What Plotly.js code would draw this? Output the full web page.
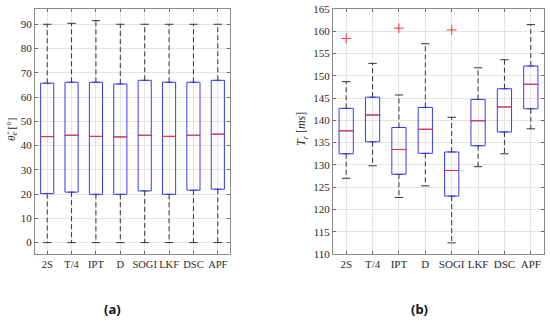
<!DOCTYPE html>
<html>
<head>
<meta charset="utf-8">
<script src="https://cdn.plot.ly/plotly-3.0.1.min.js"></script>
<style>html,body{margin:0;padding:0;background:#fff;}#plot{width:550px;height:322px;}</style>
</head>
<body>
<div id="plot"></div>
<script>
const cats = ['2S','T/4','IPT','D','SOGI','LKF','DSC','APF'];

// (a) estimation error
const aQ1   = [20.2, 20.8, 19.9, 19.9, 21.3, 19.9, 21.6, 22.0];
const aMed  = [43.7, 44.25, 43.8, 43.55, 44.25, 43.8, 44.25, 44.7];
const aQ3   = [65.7, 66.1, 66.1, 65.4, 66.9, 66.1, 66.1, 66.9];
const aLow  = [0, 0, 0, 0, 0, 0, 0, 0];
const aHigh = [90, 90.4, 91.5, 90, 90, 90, 90, 90];

// (b) response time
const bQ1   = [132.5, 135.2, 127.9, 132.6, 123.0, 134.3, 137.4, 142.6];
const bMed  = [137.65, 141.2, 133.45, 138.0, 128.75, 139.9, 143.0, 148.1];
const bQ3   = [142.7, 145.2, 138.4, 142.9, 132.9, 144.7, 147.1, 152.2];
const bLow  = [127.0, 129.8, 122.7, 125.3, 112.5, 129.6, 132.5, 138.1];
const bHigh = [148.7, 152.8, 145.7, 157.2, 140.7, 151.8, 153.6, 161.5];
const bOutCats = ['2S', 'IPT', 'SOGI'];
const bOutVals = [158.4, 160.7, 160.3];

const BLUE = '#3a3af0', RED = '#ff3030', DARK = '#333333';

function boxSet(q1, med, q3, lo, hi, xa, ya, medSize) {
  const traces = [];
  const wx = [], wy = [];
  cats.forEach((c, i) => {
    wx.push(c, c, null, c, c, null);
    wy.push(q3[i], hi[i], null, q1[i], lo[i], null);
  });
  traces.push({type:'scatter', mode:'lines', x:wx, y:wy, xaxis:xa, yaxis:ya,
    line:{color:DARK, width:1, dash:'5px,3px'}, hoverinfo:'skip', showlegend:false, connectgaps:false});
  traces.push({type:'scatter', mode:'markers', x:cats.concat(cats), y:hi.concat(lo), xaxis:xa, yaxis:ya,
    marker:{symbol:'line-ew', size:6, line:{color:DARK, width:1}}, showlegend:false, hoverinfo:'skip'});
  traces.push({type:'box', x:cats, q1:q1, median:med, q3:q3, lowerfence:q1, upperfence:q3,
    xaxis:xa, yaxis:ya, width:0.54, boxpoints:false,
    line:{color:BLUE, width:1}, fillcolor:'rgba(0,0,0,0)', showlegend:false, hoverinfo:'skip'});
  traces.push({type:'scatter', mode:'markers', x:cats, y:med, xaxis:xa, yaxis:ya,
    marker:{symbol:'line-ew', size:medSize, line:{color:RED, width:1}}, showlegend:false, hoverinfo:'skip'});
  return traces;
}

const data = [].concat(
  boxSet(aQ1, aMed, aQ3, aLow, aHigh, 'x', 'y', 10),
  boxSet(bQ1, bMed, bQ3, bLow, bHigh, 'x2', 'y2', 11),
  [{type:'scatter', mode:'markers', x:bOutCats, y:bOutVals, xaxis:'x2', yaxis:'y2',
    marker:{symbol:'cross-thin', size:7, line:{color:RED, width:1}}, showlegend:false, hoverinfo:'skip'}]
);

const tickFont = {family:'Liberation Serif, DejaVu Serif, serif', size:11, color:'#2a2a2a'};
const axBase = {
  showline:true, linecolor:'#8a8a8a', linewidth:1, mirror:'ticks',
  ticks:'inside', ticklen:3, tickcolor:'#6a6a6a', tickwidth:1,
  showgrid:true, gridcolor:'#e4e4e4', gridwidth:1, zeroline:false,
  tickfont:tickFont, fixedrange:true
};

const layout = {
  width:550, height:322,
  margin:{l:0, r:0, t:0, b:0},
  paper_bgcolor:'#ffffff', plot_bgcolor:'#ffffff',
  showlegend:false,
  boxmode:'overlay',
  xaxis: Object.assign({}, axBase, {domain:[35/550, 230/550], type:'category', categoryorder:'array', categoryarray:cats, range:[-0.5, 7.5], anchor:'y', tickangle:0,
    tickfont:{family:'Liberation Serif, DejaVu Serif, serif', size:10.5, color:'#2a2a2a'}}),
  yaxis: Object.assign({}, axBase, {domain:[1-254/322, 1-9/322], range:[-4.7, 96.3], tickvals:[0,10,20,30,40,50,60,70,80,90], anchor:'x'}),
  xaxis2: Object.assign({}, axBase, {domain:[333/550, 544/550], type:'category', categoryorder:'array', categoryarray:cats, range:[-0.5, 7.5], anchor:'y2', tickangle:0}),
  yaxis2: Object.assign({}, axBase, {domain:[1-254/322, 1-9/322], range:[110, 165], dtick:5, tick0:110, anchor:'x2'}),
  annotations: [
    {xref:'paper', yref:'paper', x:12/550, y:1-130/322, text:'<i>θ̂</i><sub><i>e</i></sub> [°]', showarrow:false, textangle:-90,
      font:{family:'Liberation Serif, DejaVu Serif, serif', size:11, color:'#2a2a2a'}, xanchor:'center', yanchor:'middle'},
    {xref:'paper', yref:'paper', x:302/550, y:1-129/322, text:'<i>T</i><sub><i>r</i></sub> [<i>ms</i>]', showarrow:false, textangle:-90,
      font:{family:'Liberation Serif, DejaVu Serif, serif', size:12, color:'#2a2a2a'}, xanchor:'center', yanchor:'middle'},
    {xref:'paper', yref:'paper', x:112/550, y:1-309/322, text:'<b>(a)</b>', showarrow:false,
      font:{family:'Noto Sans, DejaVu Sans, sans-serif', size:13, color:'#111'}, xanchor:'center', yanchor:'middle'},
    {xref:'paper', yref:'paper', x:419/550, y:1-309/322, text:'<b>(b)</b>', showarrow:false,
      font:{family:'Noto Sans, DejaVu Sans, sans-serif', size:13, color:'#111'}, xanchor:'center', yanchor:'middle'}
  ]
};

Plotly.newPlot('plot', data, layout, {staticPlot:true, displayModeBar:false});
</script>
</body>
</html>
